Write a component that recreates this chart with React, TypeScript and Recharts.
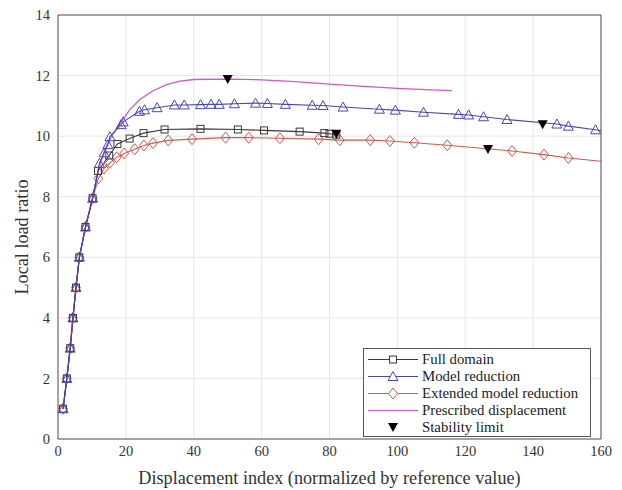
import React from "react";
import {
  ComposedChart,
  Line,
  XAxis,
  YAxis,
  CartesianGrid,
} from "recharts";

// shared loading branch
const startX = [1.5, 2.6, 3.6, 4.4, 5.3, 6.3, 8.1, 10.2];
const startY = [1, 2, 3, 4, 5, 6, 7, 7.95];

const fullDomainX = [...startX, 11.8, 15.1, 17.5, 21.1, 25.2, 31.4, 42, 53, 60.7, 71.2, 78.5, 80, 82];
const fullDomainY = [...startY, 8.85, 9.36, 9.74, 9.92, 10.1, 10.22, 10.24, 10.22, 10.19, 10.15, 10.1, 10.08, 10.05];

const modelRedX = [
  ...startX, 12.2, 13.6, 14.7, 15.3, 18.6, 19.2, 24, 25.5, 29.2, 34.3, 37.2, 42, 45.1, 47.5, 52,
  58.2, 61.7, 67, 74.9, 78.1, 84, 94.7, 99.4, 107.7, 118, 121, 125.4, 132.3, 147, 150.4, 158.4, 160,
];
const modelRedY = [
  ...startY, 9.1, 9.45, 9.72, 9.98, 10.38, 10.47, 10.82, 10.87, 10.94, 11.03, 11.03, 11.04, 11.05, 11.05, 11.07,
  11.09, 11.08, 11.05, 11.02, 11.01, 10.96, 10.89, 10.86, 10.79, 10.72, 10.7, 10.64, 10.55, 10.4, 10.33, 10.21, 10.18,
];

const extModelX = [
  ...startX, 11.9, 13.5, 15.3, 17.3, 19.5, 22.6, 25.3, 28, 32.5, 39.5, 49.4, 56.2, 65.4, 76.8, 83, 92,
  97.8, 105, 114.7, 133.8, 143.2, 150.4, 160,
];
const extModelY = [
  ...startY, 8.6, 8.93, 9.12, 9.3, 9.43, 9.57, 9.69, 9.77, 9.86, 9.9, 9.95, 9.95, 9.93, 9.9, 9.87, 9.87,
  9.84, 9.78, 9.7, 9.51, 9.39, 9.28, 9.17,
];

const prescribedX = [...startX, 12, 14, 16, 18.8, 21, 24, 28, 32, 36, 40, 50, 60, 70, 80, 90, 100, 110, 116];
const prescribedY = [...startY, 8.95, 9.6, 10.05, 10.5, 10.85, 11.2, 11.5, 11.7, 11.82, 11.87, 11.88, 11.86, 11.8, 11.72, 11.64, 11.58, 11.53, 11.5];

const stabilityX = [50, 82, 126.7, 142.8];
const stabilityY = [11.87, 10.06, 9.56, 10.38];

const xTicks = [0, 20, 40, 60, 80, 100, 120, 140, 160];
const yTicks = [0, 2, 4, 6, 8, 10, 12, 14];

const legendLabels = [
  "Full domain",
  "Model reduction",
  "Extended model reduction",
  "Prescribed displacement",
  "Stability limit",
];

// rows for each series; the last point of a curve may carry no marker
const toRows = (xs: number[], ys: number[], lastMarked = true) =>
  xs.map((x, i) => ({ x, y: ys[i], m: lastMarked || i < xs.length - 1 }));

const fullRows = toRows(fullDomainX, fullDomainY);
const modelRows = toRows(modelRedX, modelRedY, false);
const extRows = toRows(extModelX, extModelY, false);
const presRows = toRows(prescribedX, prescribedY);
const stabRows = toRows(stabilityX, stabilityY);

const C = {
  full: "#3a3a3a",
  model: "#4646bc",
  ext: "#d6564a",
  pres: "#d354d3",
  axis: "#555",
  grid: "#e6e6e6",
};

const FONT = "'Liberation Serif', 'Times New Roman', serif";

const SquareDot = (p: any) => {
  const { cx, cy, payload, index } = p;
  if (!payload.m || cx == null) return <g key={`s${index}`} />;
  return <rect key={`s${index}`} x={cx - 3.5} y={cy - 3.5} width={7} height={7} fill="none" stroke={C.full} strokeWidth={1} />;
};

const TriangleDot = (p: any) => {
  const { cx, cy, payload, index } = p;
  if (!payload.m || cx == null) return <g key={`t${index}`} />;
  return (
    <path
      key={`t${index}`}
      d={`M${cx},${cy - 5} L${cx + 5},${cy + 4} L${cx - 5},${cy + 4} Z`}
      fill="none"
      stroke={C.model}
      strokeWidth={1}
    />
  );
};

const DiamondDot = (p: any) => {
  const { cx, cy, payload, index } = p;
  if (!payload.m || cx == null) return <g key={`d${index}`} />;
  return (
    <path
      key={`d${index}`}
      d={`M${cx},${cy - 5.5} L${cx + 4.5},${cy} L${cx},${cy + 5.5} L${cx - 4.5},${cy} Z`}
      fill="none"
      stroke={C.ext}
      strokeWidth={1}
    />
  );
};

const ArrowDot = (p: any) => {
  const { cx, cy, index } = p;
  if (cx == null) return <g key={`a${index}`} />;
  return <path key={`a${index}`} d={`M${cx - 5},${cy - 4.5} L${cx + 5},${cy - 4.5} L${cx},${cy + 4.5} Z`} fill="#000" />;
};

const legendSample = (i: number) => {
  const mid = 8.5;
  switch (i) {
    case 0:
      return (
        <>
          <line x1={4} x2={54} y1={mid} y2={mid} stroke={C.full} />
          <rect x={25.5} y={mid - 3.5} width={7} height={7} fill="#fff" stroke={C.full} />
        </>
      );
    case 1:
      return (
        <>
          <line x1={4} x2={54} y1={mid} y2={mid} stroke={C.model} />
          <path d={`M29,${mid - 5} L34,${mid + 4} L24,${mid + 4} Z`} fill="#fff" stroke={C.model} />
        </>
      );
    case 2:
      return (
        <>
          <line x1={4} x2={54} y1={mid} y2={mid} stroke={C.ext} />
          <path d={`M29,${mid - 5.5} L33.5,${mid} L29,${mid + 5.5} L24.5,${mid} Z`} fill="#fff" stroke={C.ext} />
        </>
      );
    case 3:
      return <line x1={4} x2={54} y1={mid} y2={mid} stroke={C.pres} />;
    default:
      return <path d={`M24,${mid - 4.5} L34,${mid - 4.5} L29,${mid + 4.5} Z`} fill="#000" />;
  }
};

export default function App() {
  return (
    <div style={{ position: "fixed", left: 0, top: 0, width: 622, height: 490, background: "#fff", fontFamily: FONT }}>
      <ComposedChart width={622} height={490} margin={{ top: 15, right: 21, bottom: 20, left: 0 }}>
        <CartesianGrid stroke={C.grid} strokeWidth={1} />
        <XAxis
          dataKey="x"
          type="number"
          domain={[0, 160]}
          ticks={xTicks}
          allowDataOverflow
          height={31}
          tickLine={false}
          axisLine={{ stroke: C.axis }}
          tick={{ fill: "#333", fontSize: 14.5, fontFamily: FONT }}
          tickMargin={1}
          label={{
            content: ({ viewBox }: any) => (
              <text
                x={viewBox.x + viewBox.width / 2}
                y={484}
                textAnchor="middle"
                fill="#333"
                fontSize={18.2}
                fontFamily={FONT}
              >
                Displacement index (normalized by reference value)
              </text>
            ),
          }}
        />
        {/* inward tick marks and box edges */}
        <XAxis xAxisId="in" dataKey="x" type="number" domain={[0, 160]} ticks={xTicks} allowDataOverflow orientation="bottom" mirror tick={false} axisLine={false} tickSize={5} tickLine={{ stroke: C.axis }} />
        <XAxis xAxisId="top" dataKey="x" type="number" domain={[0, 160]} ticks={xTicks} allowDataOverflow orientation="top" mirror tick={false} axisLine={{ stroke: C.axis }} tickSize={5} tickLine={{ stroke: C.axis }} />
        <YAxis
          type="number"
          domain={[0, 14]}
          ticks={yTicks}
          allowDataOverflow
          width={58}
          tickLine={false}
          axisLine={{ stroke: C.axis }}
          tick={{ fill: "#333", fontSize: 14.5, fontFamily: FONT }}
          tickMargin={2}
          label={{
            content: ({ viewBox }: any) => {
              const cx = 22;
              const cy = viewBox.y + viewBox.height / 2 + 10;
              return (
                <text
                  x={cx}
                  y={cy}
                  transform={`rotate(-90, ${cx}, ${cy})`}
                  textAnchor="middle"
                  dominantBaseline="central"
                  fill="#333"
                  fontSize={18.2}
                  fontFamily={FONT}
                >
                  Local load ratio
                </text>
              );
            },
          }}
        />
        <YAxis yAxisId="in" type="number" domain={[0, 14]} ticks={yTicks} allowDataOverflow orientation="left" mirror tick={false} axisLine={false} tickSize={5} tickLine={{ stroke: C.axis }} />
        <YAxis yAxisId="right" type="number" domain={[0, 14]} ticks={yTicks} allowDataOverflow orientation="right" mirror tick={false} axisLine={{ stroke: C.axis }} tickSize={5} tickLine={{ stroke: C.axis }} />

        <Line data={presRows} dataKey="y" type="linear" stroke={C.pres} strokeWidth={1.3} dot={false} activeDot={false} isAnimationActive={false} />
        <Line data={extRows} dataKey="y" type="linear" stroke={C.ext} strokeWidth={1.1} dot={DiamondDot} activeDot={false} isAnimationActive={false} />
        <Line data={fullRows} dataKey="y" type="linear" stroke={C.full} strokeWidth={1.1} dot={SquareDot} activeDot={false} isAnimationActive={false} />
        <Line data={modelRows} dataKey="y" type="linear" stroke={C.model} strokeWidth={1.1} dot={TriangleDot} activeDot={false} isAnimationActive={false} />
        <Line data={stabRows} dataKey="y" type="linear" stroke="none" dot={ArrowDot} activeDot={false} isAnimationActive={false} />
      </ComposedChart>

      <div
        style={{
          position: "absolute",
          left: 363,
          top: 348,
          width: 228,
          height: 89,
          boxSizing: "border-box",
          border: `1px solid ${C.axis}`,
          background: "#fff",
          paddingTop: 2,
        }}
      >
        {legendLabels.map((label, i) => (
          <div key={label} style={{ display: "flex", alignItems: "center", height: 17 }}>
            <svg width={58} height={17} style={{ flex: "none" }}>
              {legendSample(i)}
            </svg>
            <span style={{ fontSize: 14.8, color: "#222", marginLeft: 0, whiteSpace: "nowrap", lineHeight: "17px" }}>{label}</span>
          </div>
        ))}
      </div>
    </div>
  );
}
